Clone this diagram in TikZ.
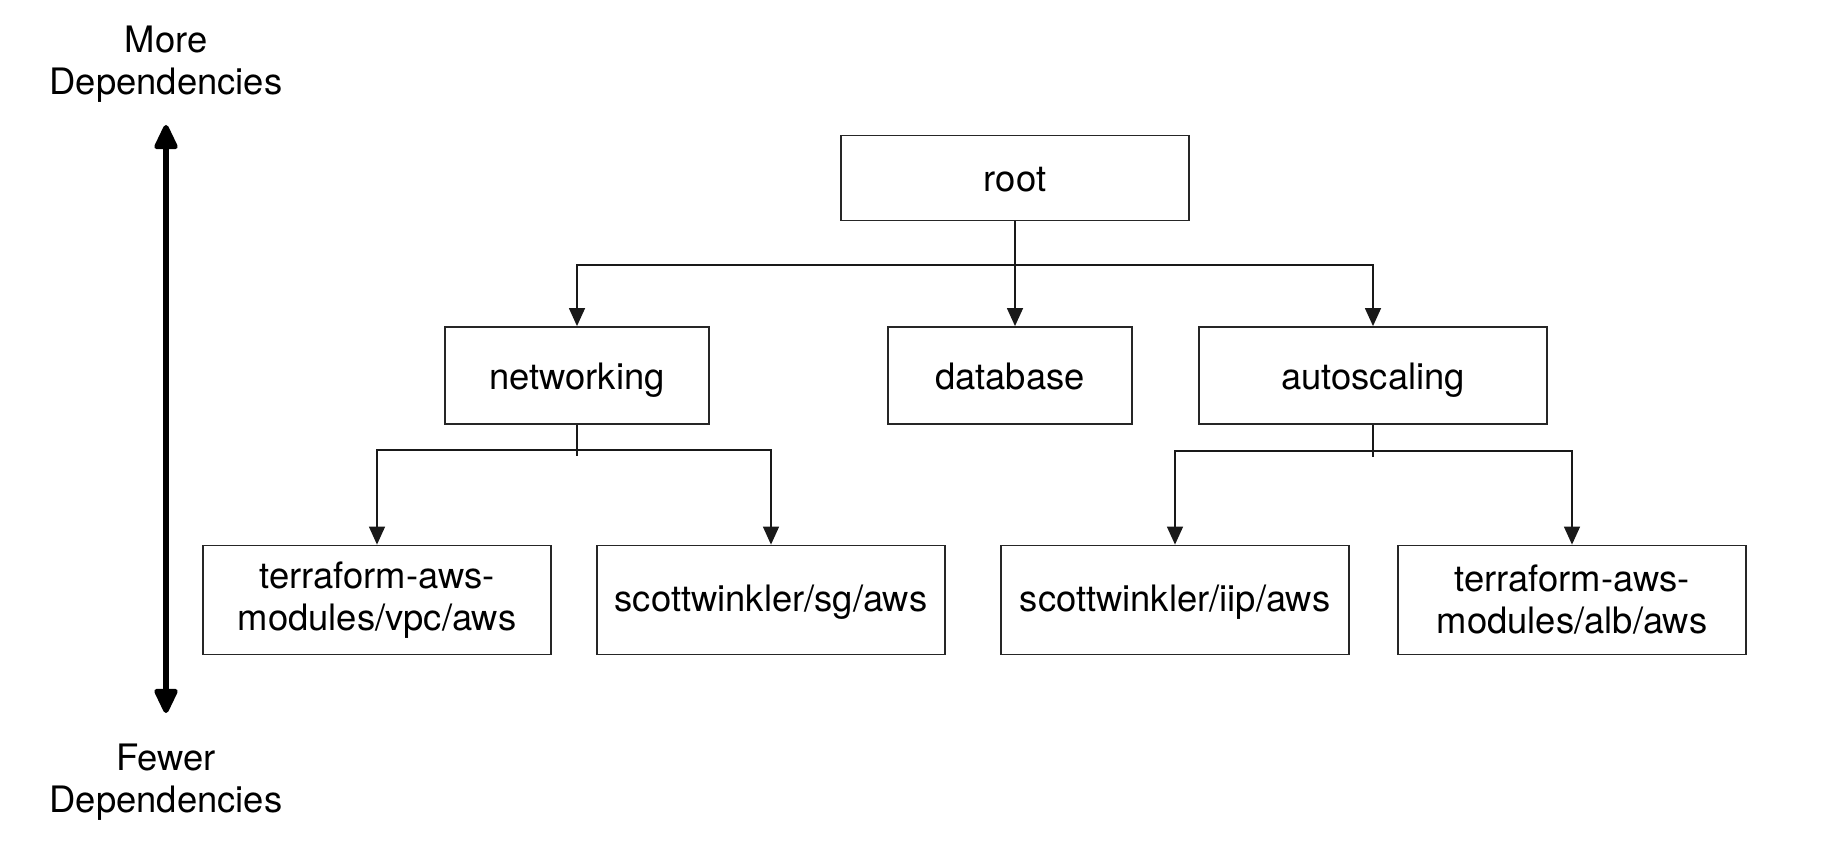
\documentclass[tikz,border=0pt]{standalone}
\usepackage{fontspec}
\setmainfont{TeX Gyre Heros}
\usetikzlibrary{arrows.meta}
\begin{document}
\begin{tikzpicture}[x=0.5pt,y=-0.5pt,
  font=\fontsize{18.2pt}{21pt}\selectfont,
  box/.style={draw=black!85,line width=0.9pt,rectangle,inner sep=0pt,align=center},
  one/.style={text height=15.5pt,text depth=1.5pt},
  onebot/.style={text height=13pt,text depth=1.5pt},
  topbox/.style={box,one,minimum height=42.5pt},
  midbox/.style={box,one,minimum height=48.5pt},
  botbox/.style={box,minimum height=54.5pt,minimum width=174pt},
  conn/.style={draw=black!90,line width=0.7pt},
  arr/.style={conn,-{Triangle[width=8pt,length=9pt]}},
  bigarr/.style={line width=2.6pt,{Triangle[width=12.5pt,length=14pt,round]}-{Triangle[width=12.5pt,length=14pt,round]}},
  lbl/.style={align=center,inner sep=0pt}]
\useasboundingbox (0,0) rectangle (1832,854);

\node[lbl] (more) at (166,64.5) {More\\Dependencies};
\node[lbl] (fewer) at (166,782.5) {Fewer\\Dependencies};
\coordinate (atop) at (166,125);
\coordinate (abot) at (166,713);
\draw[bigarr] (atop) -- (abot);

\node[topbox,minimum width=174pt] (root) at (1015,178) {root};
\node[midbox,minimum width=132pt] (net) at (577,375.5) {networking};
\node[midbox,minimum width=122pt] (db) at (1010,375.5) {database};
\node[midbox,minimum width=174pt] (auto) at (1373,375.5) {autoscaling};

\node[botbox] (vpc) at (377,600) {terraform-aws-\\modules/vpc/aws};
\node[botbox,onebot] (sg) at (771,600) {scottwinkler/sg/aws};
\node[botbox,onebot] (iip) at (1175,600) {scottwinkler/iip/aws};
\node[botbox] (alb) at (1572,600) {terraform-aws-\\modules/alb/aws};

\coordinate (rj) at (1015,265);
\draw[conn] (root.south) -- (rj);
\draw[arr] (rj) -- (rj |- db.north);
\draw[arr] (rj) -| (net.north);
\draw[arr] (rj) -| (auto.north);

\coordinate (nj) at (577,450);
\draw[conn] (net.south) -- ([yshift=-3]nj);
\draw[arr] (nj) -| (vpc.north);
\draw[arr] (nj) -| (sg.north);

\coordinate (aj) at (1373,451);
\draw[conn] (auto.south) -- ([yshift=-3]aj);
\draw[arr] (aj) -| (iip.north);
\draw[arr] (aj) -| (alb.north);
\end{tikzpicture}
\end{document}
